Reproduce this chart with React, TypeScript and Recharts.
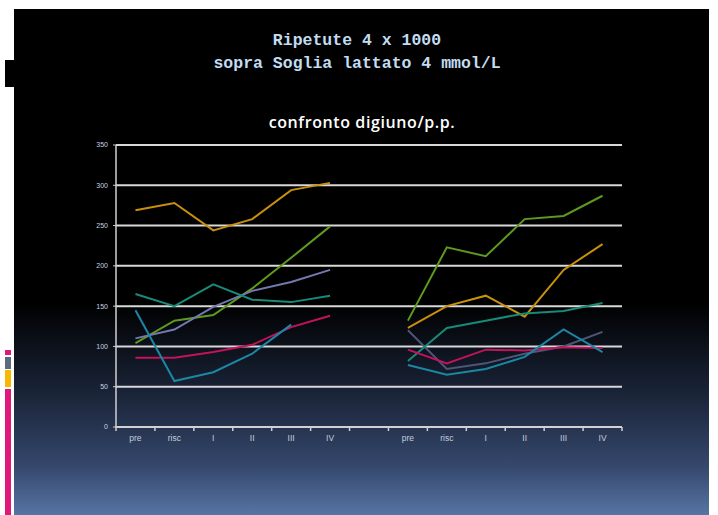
import React from 'react';
import { LineChart, Line, XAxis, YAxis, CartesianGrid } from 'recharts';

const leftCategories = ['pre', 'risc', 'I', 'II', 'III', 'IV'];
const rightCategories = ['pre', 'risc', 'I', 'II', 'III', 'IV'];
const yTicks = [0, 50, 100, 150, 200, 250, 300, 350];

const orangeLeft = [269, 278, 244, 258, 294, 303];
const orangeRight = [123, 150, 163, 137, 195, 227];
const greenLeft = [104, 132, 139, 172, 210, 249];
const greenRight = [132, 223, 212, 258, 262, 287];
const lavenderLeft = [110, 121, 149, 169, 180, 195];
const lavenderRight = [120, 72, 79, 91, 100, 118];
const tealLeft = [165, 150, 177, 158, 155, 163];
const tealRight = [82, 123, 132, 141, 144, 154];
const magentaLeft = [86, 86, 93, 102, 124, 138];
const magentaRight = [96, 79, 96, 95, 99, 98];
const cyanLeft: (number | null)[] = [145, 57, 68, 91, 127, null];
const cyanRight = [77, 65, 72, 87, 121, 93];

const series = [
  { key: 'orange', left: orangeLeft, right: orangeRight, colorL: '#c8900c', colorR: '#c8900c' },
  { key: 'green', left: greenLeft, right: greenRight, colorL: '#5f9a20', colorR: '#5f9a20' },
  { key: 'lavender', left: lavenderLeft, right: lavenderRight, colorL: '#7379b0', colorR: '#4e5578' },
  { key: 'teal', left: tealLeft, right: tealRight, colorL: '#178a78', colorR: '#178a78' },
  { key: 'magenta', left: magentaLeft, right: magentaRight, colorL: '#c2135c', colorR: '#c2135c' },
  { key: 'cyan', left: cyanLeft, right: cyanRight, colorL: '#1b87a5', colorR: '#1b87a5' },
];

const categories = [...leftCategories, '', ...rightCategories];
const xTicks = categories.map((_, i) => i);

const data = categories.map((cat, i) => {
  const row: Record<string, any> = { x: i, cat };
  series.forEach((s) => {
    row[s.key + 'L'] = i < leftCategories.length ? s.left[i] : null;
    const ri = i - leftCategories.length - 1;
    row[s.key + 'R'] = ri >= 0 ? s.right[ri] : null;
  });
  return row;
});

const CHART_W = 718;
const CHART_H = 515;
const M_LEFT = 86;
const Y_W = 30;
const M_RIGHT = 96;
const PLOT_W = CHART_W - M_LEFT - Y_W - M_RIGHT;
const BAND = PLOT_W / categories.length;

const XTick = (props: any) => {
  const { x, y, payload } = props;
  const idx = payload.value as number;
  const isLast = idx === categories.length - 1;
  return (
    <g>
      <line x1={x - BAND / 2} x2={x - BAND / 2} y1={y} y2={y + 4} stroke="#d0d0d0" strokeWidth={1.5} />
      {isLast && (
        <line x1={x + BAND / 2} x2={x + BAND / 2} y1={y} y2={y + 4} stroke="#d0d0d0" strokeWidth={1.5} />
      )}
      <text x={x} y={y + 14} textAnchor="middle" fontSize={8.5} fill="#c4cede" fontFamily="Liberation Sans, Arial, sans-serif">
        {categories[idx]}
      </text>
    </g>
  );
};

export default function App() {
  return (
    <div style={{ position: 'absolute', left: 0, top: 0, width: 718, height: 515, background: '#ffffff', overflow: 'hidden' }}>
      <div
        style={{
          position: 'absolute',
          left: 14,
          top: 9,
          width: 695,
          height: 506,
          background: 'linear-gradient(to bottom, #000000 0%, #000000 58%, #1a2438 76%, #34466a 90%, #5674a4 100%)',
        }}
      />
      <div style={{ position: 'absolute', left: 5, top: 60, width: 10, height: 27, background: '#000' }} />
      <div style={{ position: 'absolute', left: 5, top: 350, width: 6, height: 5, background: '#e0187a' }} />
      <div style={{ position: 'absolute', left: 5, top: 357, width: 6, height: 12, background: '#5a6a80' }} />
      <div style={{ position: 'absolute', left: 5, top: 370, width: 6, height: 17, background: '#f6b800' }} />
      <div style={{ position: 'absolute', left: 5, top: 389, width: 6, height: 126, background: '#e0187a' }} />
      <div
        style={{
          position: 'absolute',
          left: 157,
          top: 29,
          width: 400,
          textAlign: 'center',
          fontFamily: '"Liberation Mono", "DejaVu Sans Mono", monospace',
          fontSize: 16.5,
          fontWeight: 'bold',
          lineHeight: '23px',
          color: '#c2dcf2',
        }}
      >
        <div>Ripetute 4 x 1000</div>
        <div>sopra Soglia lattato 4 mmol/L</div>
      </div>
      <div
        style={{
          position: 'absolute',
          left: 162,
          top: 112,
          width: 400,
          textAlign: 'center',
          fontFamily: '"Open Sans", "Liberation Sans", sans-serif',
          fontSize: 16,
          fontWeight: 600,
          letterSpacing: 0.6,
          lineHeight: '20px',
          color: '#ffffff',
        }}
      >
        confronto digiuno/p.p.
      </div>
      <div style={{ position: 'absolute', left: 0, top: 0 }}>
        <LineChart width={CHART_W} height={CHART_H} data={data} margin={{ top: 145, right: M_RIGHT, bottom: 68, left: M_LEFT }}>
          <CartesianGrid vertical={false} stroke="#d8d8d8" strokeWidth={2} />
          <XAxis
            dataKey="x"
            type="number"
            domain={[-0.5, categories.length - 0.5]}
            ticks={xTicks}
            interval={0}
            tickLine={false}
            tickSize={0}
            tickMargin={0}
            height={20}
            axisLine={{ stroke: '#d0d0d0', strokeWidth: 1.5 }}
            tick={<XTick />}
          />
          <YAxis
            domain={[0, 350]}
            ticks={yTicks}
            width={Y_W}
            tickSize={3}
            tickMargin={5}
            interval={0}
            axisLine={{ stroke: '#d0d0d0', strokeWidth: 1.5 }}
            tickLine={{ stroke: '#d0d0d0' }}
            tick={{ fontSize: 7, fill: '#c8d2e4', fontFamily: 'Liberation Sans, Arial, sans-serif' }}
          />
          {series.map((s) => (
            <Line
              key={s.key + 'L'}
              dataKey={s.key + 'L'}
              stroke={s.colorL}
              strokeWidth={2}
              dot={false}
              activeDot={false}
              isAnimationActive={false}
              connectNulls={false}
            />
          ))}
          {series.map((s) => (
            <Line
              key={s.key + 'R'}
              dataKey={s.key + 'R'}
              stroke={s.colorR}
              strokeWidth={2}
              dot={false}
              activeDot={false}
              isAnimationActive={false}
              connectNulls={false}
            />
          ))}
        </LineChart>
      </div>
    </div>
  );
}
